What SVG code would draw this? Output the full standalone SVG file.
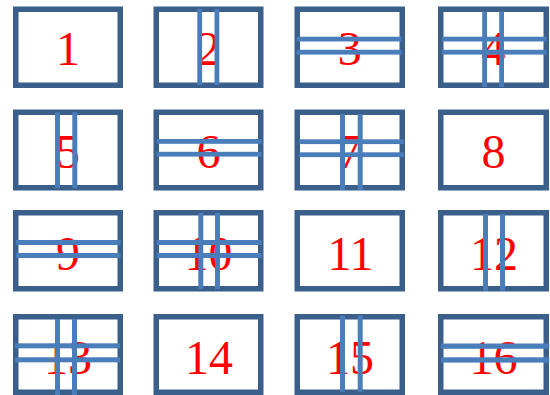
<svg xmlns="http://www.w3.org/2000/svg" width="550" height="395" viewBox="0 0 550 395">
<style>
.box{fill:#fff;stroke:#3A5F8B;stroke-width:5.5}
.bar{fill:#4A7EBB}
.num{font-family:"Liberation Serif","Times New Roman",serif;font-size:48px;fill:#FF0000;text-anchor:middle}
</style>
<rect width="550" height="395" fill="#fff"/>
<g id="n1"><rect class="box" x="15.75" y="9.25" width="104.5" height="76"/><text class="num" x="68" y="65">1</text></g>
<g id="n2"><rect class="box" x="156.25" y="9.25" width="104.5" height="76"/><text class="num" x="208.5" y="65">2</text>
<rect class="bar" x="197.3" y="9" width="4.8" height="76"/><rect class="bar" x="214.5" y="9" width="4.8" height="76"/></g>
<g id="n3"><rect class="box" x="297.25" y="9.25" width="105" height="76"/><text class="num" x="349.75" y="65">3</text>
<rect class="bar" x="296.7" y="36.7" width="105" height="4.8"/><rect class="bar" x="296.7" y="49.8" width="105" height="4.8"/></g>
<g id="n4"><rect class="box" x="440.75" y="9.25" width="105.5" height="76"/><text class="num" x="493.5" y="65">4</text>
<rect class="bar" x="482.2" y="11.5" width="4.8" height="75.5"/><rect class="bar" x="499.2" y="11.5" width="4.8" height="75.5"/>
<rect class="bar" x="441.7" y="36.7" width="105" height="4.8"/><rect class="bar" x="441.7" y="49.8" width="105" height="4.8"/></g>

<g id="n5"><rect class="box" x="15.75" y="112.25" width="104.5" height="75.5"/><text class="num" x="68" y="168">5</text>
<rect class="bar" x="55" y="112.3" width="5" height="76"/><rect class="bar" x="72.3" y="112.3" width="5" height="76"/></g>
<g id="n6"><rect class="box" x="156.25" y="112.25" width="104.5" height="75.5"/><text class="num" x="208.5" y="168">6</text>
<rect class="bar" x="156.7" y="139" width="105" height="4.8"/><rect class="bar" x="156.7" y="151.8" width="105" height="4.8"/></g>
<g id="n7"><rect class="box" x="297.25" y="112.25" width="105" height="75.5"/><text class="num" x="349.75" y="168">7</text>
<rect class="bar" x="340" y="114" width="5" height="76"/><rect class="bar" x="357.7" y="114" width="5" height="76"/>
<rect class="bar" x="299" y="139.3" width="105" height="4.8"/><rect class="bar" x="299" y="152.3" width="105" height="4.8"/></g>
<g id="n8"><rect class="box" x="440.75" y="112.25" width="105.5" height="75.5"/><text class="num" x="493.5" y="168">8</text></g>

<g id="n9"><rect class="box" x="15.75" y="212.75" width="104.5" height="76"/><text class="num" x="68" y="269.5">9</text>
<rect class="bar" x="16" y="240" width="104.7" height="5"/><rect class="bar" x="16" y="253" width="104.7" height="5"/></g>
<g id="n10"><rect class="box" x="156.25" y="212.75" width="104.5" height="76"/><text class="num" x="208.5" y="269.5">10</text>
<rect class="bar" x="198.3" y="212.7" width="5" height="76.3"/><rect class="bar" x="215" y="212.7" width="5" height="76.3"/>
<rect class="bar" x="156.7" y="240" width="105" height="5"/><rect class="bar" x="156.7" y="253" width="105" height="5"/></g>
<g id="n11"><rect class="box" x="297.25" y="212.75" width="105" height="76"/><text class="num" x="350.5" y="269.5">11</text></g>
<g id="n12"><rect class="box" x="440.75" y="212.75" width="105.5" height="76"/><text class="num" x="494" y="269.5">12</text>
<rect class="bar" x="483" y="214" width="5" height="76.7"/><rect class="bar" x="500" y="214" width="5" height="76.7"/></g>

<g id="n13"><rect class="box" x="15.75" y="316.75" width="104.5" height="75.5"/><text class="num" x="68" y="373.5">13</text>
<rect class="bar" x="55" y="319" width="5" height="76"/><rect class="bar" x="72" y="319" width="5" height="76"/>
<rect class="bar" x="15" y="343.3" width="105" height="5"/><rect class="bar" x="15" y="357.3" width="105" height="5"/></g>
<g id="n14"><rect class="box" x="156.25" y="316.75" width="104.5" height="75.5"/><text class="num" x="209" y="374">14</text></g>
<g id="n15"><rect class="box" x="297.25" y="316.75" width="105" height="75.5"/><text class="num" x="350" y="374">15</text>
<rect class="bar" x="340" y="315.7" width="5" height="76"/><rect class="bar" x="357.7" y="315.7" width="5" height="76"/></g>
<g id="n16"><rect class="box" x="440.75" y="316.75" width="105.5" height="75.5"/><text class="num" x="493.5" y="374">16</text>
<rect class="bar" x="441" y="343.5" width="108.3" height="5.3"/><rect class="bar" x="441" y="357.3" width="108.3" height="5.3"/></g>
<g id="connectors"/>
</svg>
